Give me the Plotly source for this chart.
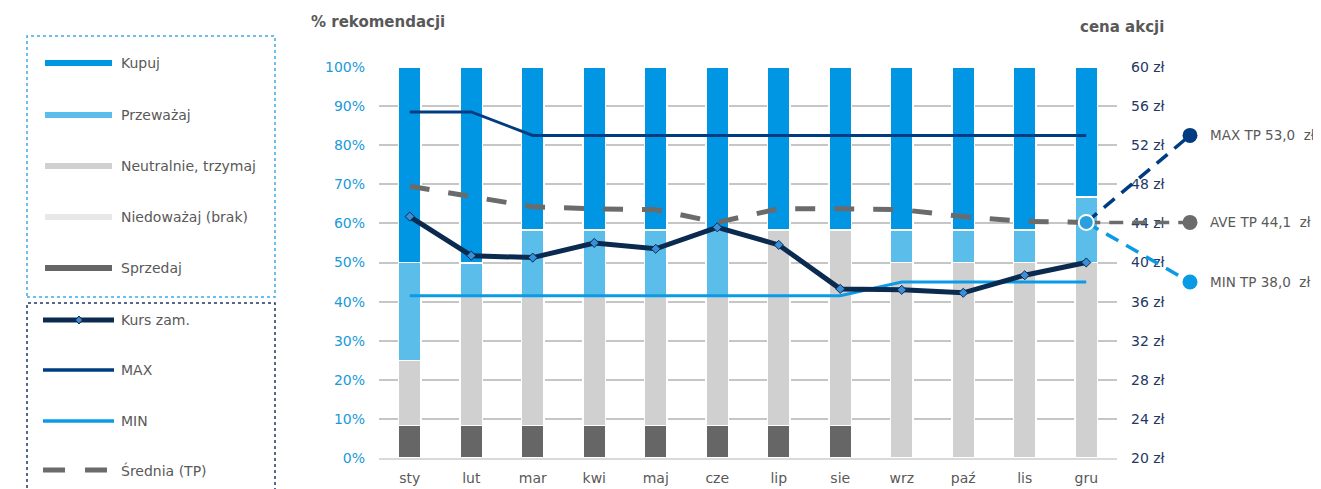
import plotly.graph_objects as go

# ── Data ───────────────────────────────────────────────────────────────────
months = ["sty", "lut", "mar", "kwi", "maj", "cze", "lip", "sie", "wrz", "paź", "lis", "gru"]

# structure of recommendations (share of analysts)
sprzedaj   = [0.083, 0.083, 0.083, 0.083, 0.083, 0.083, 0.083, 0.083, 0.0, 0.0, 0.0, 0.0]
niedowazaj = [0.0, 0.0, 0.0, 0.0, 0.0, 0.0, 0.0, 0.0, 0.0, 0.0, 0.0, 0.0]
neutralnie = [0.167, 0.333, 0.333, 0.333, 0.333, 0.333, 0.5, 0.5, 0.5, 0.5, 0.5, 0.5]
przewazaj  = [0.25, 0.083, 0.167, 0.167, 0.167, 0.167, 0.0, 0.0, 0.083, 0.083, 0.083, 0.167]
kupuj      = [0.5, 0.5, 0.417, 0.417, 0.417, 0.417, 0.417, 0.417, 0.417, 0.417, 0.417, 0.333]

# share price and target prices (zł)
kurs   = [44.7, 40.7, 40.5, 42.0, 41.4, 43.6, 41.8, 37.3, 37.2, 36.9, 38.7, 40.0]
tp_max = [55.4, 55.4, 53.0, 53.0, 53.0, 53.0, 53.0, 53.0, 53.0, 53.0, 53.0, 53.0]
tp_min = [36.6, 36.6, 36.6, 36.6, 36.6, 36.6, 36.6, 36.6, 38.0, 38.0, 38.0, 38.0]
tp_ave = [47.8, 46.8, 45.7, 45.5, 45.4, 44.1, 45.5, 45.5, 45.4, 44.7, 44.2, 44.1]

pct_ticks   = [0, 0.1, 0.2, 0.3, 0.4, 0.5, 0.6, 0.7, 0.8, 0.9, 1.0]
price_ticks = [20, 24, 28, 32, 36, 40, 44, 48, 52, 56, 60]
price_text  = [f"{v} zł" for v in price_ticks]

# ── Style ──────────────────────────────────────────────────────────────────
FONT     = "DejaVu Sans, Verdana, sans-serif"
TXT      = "#595959"
C_KUPUJ  = "#0096E3"
C_PRZEW  = "#5BBDEA"
C_NEUTR  = "#D0D0D0"
C_NIEDO  = "#E8E8E8"
C_SPRZ   = "#666666"
C_KURS   = "#0B2A50"
C_MAX    = "#003C82"
C_MIN    = "#0A9BE6"
C_AVE    = "#6B6B6B"
GRID     = "#C6C6C6"

# page is 1321 x 489, the html body adds an 8px offset
PAGE_W, PAGE_H, OFF = 1321, 489, 8
PL, PR, PT, PB = 379, 1117, 67, 458          # plot area in page pixels
def px(x): return (x - PL) / (PR - PL)
def py(y): return (PB - y) / (PB - PT)

fig = go.Figure()

# ── Stacked bars ───────────────────────────────────────────────────────────
bar_series = [
    ("Sprzedaj", sprzedaj, C_SPRZ),
    ("Niedoważaj (brak)", niedowazaj, C_NIEDO),
    ("Neutralnie, trzymaj", neutralnie, C_NEUTR),
    ("Przeważaj", przewazaj, C_PRZEW),
    ("Kupuj", kupuj, C_KUPUJ),
]
xs = list(range(len(months)))
for name, vals, col in bar_series:
    fig.add_trace(go.Bar(
        x=xs, y=vals, name=name, width=0.36,
        marker=dict(color=col, line=dict(color="white", width=1.5)),
        showlegend=False,
    ))

# ── Price lines (right axis) ───────────────────────────────────────────────
fig.add_trace(go.Scatter(x=xs, y=tp_ave, yaxis="y2", mode="lines", name="Średnia (TP)",
                         line=dict(color=C_AVE, width=5, dash="20px,19px"), showlegend=False))
fig.add_trace(go.Scatter(x=xs, y=tp_min, yaxis="y2", mode="lines", name="MIN",
                         line=dict(color=C_MIN, width=3), showlegend=False))
fig.add_trace(go.Scatter(x=xs, y=tp_max, yaxis="y2", mode="lines", name="MAX",
                         line=dict(color=C_MAX, width=3), showlegend=False))
fig.add_trace(go.Scatter(x=xs, y=kurs, yaxis="y2", mode="lines+markers", name="Kurs zam.",
                         line=dict(color=C_KURS, width=5),
                         marker=dict(symbol="diamond", size=7, color="#3A8FD6",
                                     line=dict(color=C_KURS, width=1)),
                         showlegend=False))

# ── Target price summary on the right ──────────────────────────────────────
last_x = xs[-1]
x_last_paper = (last_x + 0.5) / len(months)
x_dot = px(1190)
tp_labels = [
    ("MAX TP", tp_max[-1], C_MAX),
    ("AVE TP", tp_ave[-1], C_AVE),
    ("MIN TP", tp_min[-1], C_MIN),
]
shapes = []
annotations = []
for lab, val, col in tp_labels:
    shapes.append(dict(type="line", xref="paper", yref="y2",
                       x0=x_last_paper, y0=tp_ave[-1], x1=x_dot, y1=val,
                       line=dict(color=col, width=3.5, dash="14px,9px"), layer="above"))
    shapes.append(dict(type="circle", xref="paper", yref="y2", xsizemode="pixel", ysizemode="pixel",
                       xanchor=x_dot, yanchor=val, x0=-7.5, x1=7.5, y0=-7.5, y1=7.5,
                       fillcolor=col, line=dict(width=0), layer="above"))
    annotations.append(dict(xref="paper", yref="y2", x=px(1208), y=val, xanchor="left",
                            yanchor="middle",
                            text=f"{lab} {val:.1f}  zł".replace(".", ","), showarrow=False,
                            font=dict(size=13.5, color=TXT, family=FONT)))
# current average target marker at the last month
shapes.append(dict(type="circle", xref="paper", yref="y2", xsizemode="pixel", ysizemode="pixel",
                   xanchor=x_last_paper, yanchor=tp_ave[-1], x0=-7.5, x1=7.5, y0=-7.5, y1=7.5,
                   fillcolor="#2A9FE0", line=dict(color="white", width=2), layer="above"))

# ── Manual legend (Excel-style) ────────────────────────────────────────────
shapes.append(dict(type="rect", xref="paper", yref="paper",
                   x0=px(27), x1=px(275), y0=py(297), y1=py(36),
                   line=dict(color="#3FA9E6", width=1.5, dash="dot")))
shapes.append(dict(type="rect", xref="paper", yref="paper",
                   x0=px(27), x1=px(275), y0=py(495), y1=py(303),
                   line=dict(color="#1F3864", width=1.5, dash="dot")))

legend_bars = [("Kupuj", C_KUPUJ, 63), ("Przeważaj", C_PRZEW, 115),
               ("Neutralnie, trzymaj", C_NEUTR, 166), ("Niedoważaj (brak)", C_NIEDO, 217),
               ("Sprzedaj", C_SPRZ, 268)]
for name, col, yy in legend_bars:
    shapes.append(dict(type="line", xref="paper", yref="paper",
                       x0=px(45), x1=px(112), y0=py(yy), y1=py(yy),
                       line=dict(color=col, width=6)))
    annotations.append(dict(xref="paper", yref="paper", x=px(119), y=py(yy), xanchor="left",
                            yanchor="middle", text=name, showarrow=False,
                            font=dict(size=14, color=TXT, family=FONT)))

legend_lines = [("Kurs zam.", C_KURS, 5, "solid", 320), ("MAX", C_MAX, 3.5, "solid", 370),
                ("MIN", C_MIN, 3.5, "solid", 421), ("Średnia (TP)", C_AVE, 5, "22px,20px", 470)]
for name, col, w, dash, yy in legend_lines:
    shapes.append(dict(type="line", xref="paper", yref="paper",
                       x0=px(43), x1=px(114), y0=py(yy), y1=py(yy),
                       line=dict(color=col, width=w, dash=dash)))
    annotations.append(dict(xref="paper", yref="paper", x=px(119), y=py(yy), xanchor="left",
                            yanchor="middle", text=name, showarrow=False,
                            font=dict(size=14, color=TXT, family=FONT)))
# diamond marker on the "Kurs zam." legend sample
shapes.append(dict(type="path", xref="paper", yref="paper",
                   path=f"M {px(79)},{py(316)} L {px(82.5)},{py(320)} L {px(79)},{py(324)} L {px(75.5)},{py(320)} Z",
                   fillcolor="#3A8FD6", line=dict(color=C_KURS, width=1)))

# ── Axis titles ────────────────────────────────────────────────────────────
annotations.append(dict(xref="paper", yref="paper", x=px(309), y=py(22), xanchor="left",
                        yanchor="middle", text="<b>% rekomendacji</b>", showarrow=False,
                        font=dict(size=15, color=TXT, family=FONT)))
annotations.append(dict(xref="paper", yref="paper", x=px(1166), y=py(27), xanchor="right",
                        yanchor="middle", text="<b>cena akcji</b>", showarrow=False,
                        font=dict(size=15, color=TXT, family=FONT)))

fig.update_layout(
    width=PAGE_W - OFF, height=PAGE_H - OFF,
    paper_bgcolor="white", plot_bgcolor="white",
    font=dict(family=FONT, color=TXT, size=14),
    margin=dict(l=PL - OFF, r=PAGE_W - PR, t=PT - OFF, b=PAGE_H - PB, pad=0),
    barmode="stack", showlegend=False,
    xaxis=dict(range=[-0.5, 11.5], tickvals=xs, ticktext=months, showgrid=False,
               showline=True, linecolor="#DADADA", linewidth=1.5, ticks="",
               tickfont=dict(size=14, color=TXT), ticklabelstandoff=6, zeroline=False,
               automargin=False),
    yaxis=dict(range=[0, 1], tickvals=pct_ticks, tickformat=".0%", showgrid=True,
               gridcolor=GRID, gridwidth=2, zeroline=False, showline=False, ticks="",
               tickfont=dict(size=14, color="#1A9AD9"), ticklabelstandoff=13, automargin=False),
    yaxis2=dict(range=[20, 60], tickvals=price_ticks, ticktext=price_text, overlaying="y",
                side="right", showgrid=False, zeroline=False, showline=False, ticks="",
                tickfont=dict(size=14, color="#1F3864"), ticklabelstandoff=13, automargin=False),
    shapes=shapes, annotations=annotations,
)

fig.write_html("out.html")
